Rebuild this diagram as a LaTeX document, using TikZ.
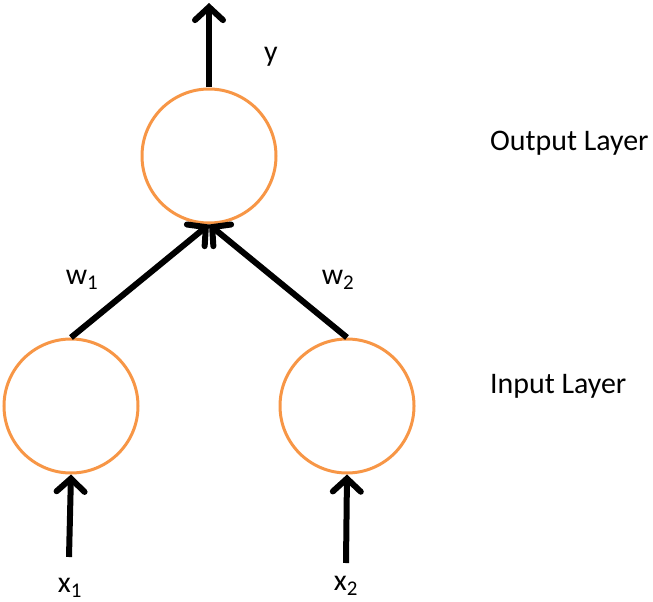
\documentclass[tikz,border=0pt]{standalone}
\usepackage{fontspec}
\setmainfont{Carlito}
\usepackage{xcolor}
\usetikzlibrary{positioning,arrows.meta}
\definecolor{neuronorange}{HTML}{F79646}

\begin{document}
\begin{tikzpicture}[x=1bp, y=1bp, node distance=50bp,
    neuron/.style={draw=neuronorange, line width=3bp, circle, minimum size=134bp, inner sep=0pt},
    signal/.style={line width=6bp, -{Straight Barb[length=13bp, width=28bp, line cap=round]}},
    lbl/.style={font=\fontsize{30}{34}\selectfont, inner sep=0pt}]
    \useasboundingbox (0,0) rectangle (653,-602);

    % layers
    \node[neuron] (out) at (209,-156) {};
    \node[neuron] (in_a) at (71,-406) {};
    \node[neuron, right of=in_a, node distance=276bp] (in_b) {};

    % free ends of the arrows
    \coordinate (y_end) at (209,-3);
    \coordinate (x_a) at (69,-557);
    \coordinate (x_b) at (346,-563);

    \draw[signal] (out.north) -- (y_end);
    \draw[signal] (x_a) -- (in_a.south);
    \draw[signal] (x_b) -- (in_b.south);
    \draw[signal] (in_a.north) -- (out.south);
    \draw[signal] (in_b.north) -- (out.south);

    % labels
    \node[lbl] (y_lbl) at (271,-57) {y};
    \node[lbl] (w_a) at (82,-280) {w\textsubscript{1}};
    \node[lbl] (w_b) at (338,-280) {w\textsubscript{2}};
    \node[lbl] (x_a_lbl) at (70,-588) {x\textsubscript{1}};
    \node[lbl] (x_b_lbl) at (346,-586) {x\textsubscript{2}};
    \node[lbl, anchor=west] (out_lbl) at (490,-143) {Output Layer};
    \node[lbl, anchor=west] (in_lbl) at (490,-386) {Input Layer};
\end{tikzpicture}
\end{document}
